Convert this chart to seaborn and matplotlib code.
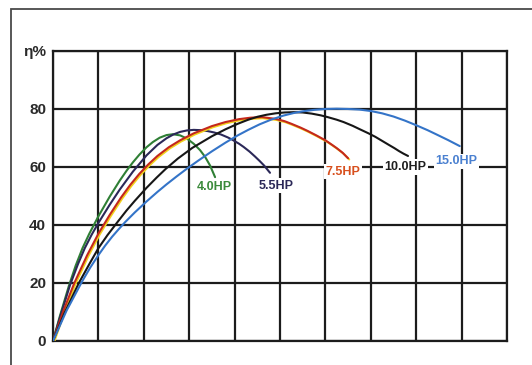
import pandas as pd
import numpy as np
import matplotlib
matplotlib.use("Agg")
import matplotlib.pyplot as plt
import matplotlib.patheffects as pe
from matplotlib.patches import Rectangle
import seaborn as sns

# Efficiency curves (x in grid units, y in %)
hp_4_0_x = [0, 0.15, 0.35, 0.5, 0.65, 0.8, 1.0, 1.25, 1.47, 1.62, 1.76, 1.9, 2.06, 2.2, 2.35, 2.5,
            2.64, 2.8, 2.95, 3.1, 3.24, 3.35, 3.46, 3.57]
hp_4_0_y = [0, 8.5, 19, 26, 32, 37, 43, 49.8, 55.3, 58.7, 61.6, 64.2, 66.8, 68.6, 70.1, 71,
            71.3, 70.9, 69.8, 68, 65.8, 63.5, 60.5, 56.5]

hp_5_5_x = [0, 0.18, 0.38, 0.55, 0.7, 0.85, 1.0, 1.25, 1.47, 1.76, 2.06, 2.3, 2.5, 2.65, 2.8, 2.95,
            3.1, 3.25, 3.4, 3.55, 3.7, 3.85, 3.95, 4.1, 4.2, 4.33, 4.45, 4.55, 4.65, 4.78]
hp_5_5_y = [0, 9.5, 19.5, 26.5, 32, 36.6, 40.7, 47, 52.2, 58.4, 64, 67.6, 69.9, 71.2, 72.1, 72.6,
            72.8, 72.7, 72.4, 71.9, 71.2, 70.2, 69.4, 68, 66.9, 65.3, 63.6, 62.1, 60.5, 58]

hp_7_5_x = [0, 0.22, 0.47, 0.75, 1.0, 1.25, 1.5, 1.7, 1.9, 2.1, 2.3, 2.55, 2.8, 3.1, 3.5, 3.8, 4.1,
            4.35, 4.6, 4.9, 5.1, 5.25, 5.45, 5.6, 5.8, 6.0, 6.15, 6.25, 6.38, 6.5]
hp_7_5_y = [0, 10, 20, 29.5, 37, 43.5, 49.5, 53.8, 57.6, 60.9, 63.8, 66.8, 69.2, 71.6, 74.1, 75.5, 76.5,
            77, 77.2, 76.6, 75.8, 74.9, 73.6, 72.5, 70.9, 69.2, 67.6, 66.5, 64.9, 63]

hp_10_x = [0, 0.25, 0.57, 0.8, 1.0, 1.2, 1.43, 1.62, 1.8, 2.06, 2.28, 2.48, 2.75, 3.07, 3.5, 3.8,
           4.07, 4.3, 4.5, 4.7, 4.9, 5.1, 5.3, 5.5, 5.7, 5.9, 6.05, 6.25, 6.4, 6.6, 6.76, 6.95,
           7.1, 7.25, 7.4, 7.52, 7.62, 7.72, 7.82]
hp_10_y = [0, 9.5, 20, 26.5, 32, 36.5, 41.2, 45, 48.3, 52.8, 56.3, 59.3, 62.9, 66.6, 70.6, 73,
           74.9, 76.3, 77.3, 78, 78.5, 78.8, 78.9, 78.8, 78.4, 77.8, 77.2, 76.3, 75.5, 74.2, 73, 71.6,
           70.4, 69, 67.6, 66.5, 65.5, 64.6, 63.8]

hp_15_x = [0, 0.3, 0.64, 0.82, 1.0, 1.15, 1.3, 1.45, 1.59, 1.8, 2.06, 2.3, 2.5, 2.72, 2.94, 3.2,
           3.5, 3.8, 4.07, 4.3, 4.55, 4.8, 5.07, 5.3, 5.5, 5.75, 6.0, 6.25, 6.5, 6.75, 7.0, 7.25,
           7.5, 7.75, 8.0, 8.25, 8.45, 8.7, 8.96]
hp_15_y = [0, 10.5, 20.5, 25.3, 29.6, 32.9, 35.9, 38.6, 41, 44.3, 48.1, 51.4, 54, 56.7, 59.3, 62.2,
           65.4, 68.4, 70.9, 72.8, 74.7, 76.3, 77.7, 78.6, 79.2, 79.7, 80, 80.1, 80, 79.8, 79.3, 78.5,
           77.4, 76, 74.4, 72.7, 71.2, 69.3, 67.2]

series_names = ["4.0HP", "5.5HP", "7.5HP", "10.0HP", "15.0HP"]
line_colors = ["#2f7f35", "#2b2858", "#c4281c", "#161616", "#3474c8"]
label_colors = ["#3b8a3b", "#2b2858", "#d8501e", "#1e1e1e", "#4a80d0"]
# label anchor points (data coords)
label_x = [3.55, 4.92, 6.38, 7.76, 8.88]
label_y = [53.0, 53.6, 58.4, 60.0, 62.0]

y_ticks = [0, 20, 40, 60, 80, 100]
y_tick_labels = ["0", "20", "40", "60", "80", "η%"]


def build_frame():
    xs = [hp_4_0_x, hp_5_5_x, hp_7_5_x, hp_10_x, hp_15_x]
    ys = [hp_4_0_y, hp_5_5_y, hp_7_5_y, hp_10_y, hp_15_y]
    rows = []
    for name, x, y in zip(series_names, xs, ys):
        for a, b in zip(x, y):
            rows.append({"Flow": a, "Eff": b, "Model": name})
    return pd.DataFrame(rows)


def plot_efficiency(df):
    sns.set_style("white")
    plt.rcParams['font.family'] = ['Liberation Sans', 'DejaVu Sans']

    fig = plt.figure(figsize=(5.32, 3.65), dpi=100)
    ax = fig.add_axes([0.0996, 0.0658, 0.8534, 0.7945])

    sns.lineplot(data=df, x="Flow", y="Eff", hue="Model", sort=False,
                 palette=dict(zip(series_names, line_colors)),
                 linewidth=1.5, legend=False, ax=ax, zorder=3)
    for ln in ax.get_lines():
        ln.set_solid_joinstyle("round")
        ln.set_solid_capstyle("round")

    # the red curve is printed with a yellow fringe in the scan
    red_line = ax.get_lines()[2]
    red_line.set_path_effects([pe.SimpleLineShadow(offset=(0.8, -0.8), shadow_color="#f2d21c", alpha=1.0),
                               pe.Normal()])

    ax.set_xlim(0, 10)
    ax.set_ylim(0, 100)
    ax.set_xticks(np.arange(0, 11, 1))
    ax.set_xticklabels([])
    ax.set_yticks(y_ticks)
    ax.set_yticklabels(y_tick_labels, fontsize=11, fontweight='bold', color="#2a2a2a")
    ax.tick_params(length=0, pad=5)
    ax.set_xlabel("")
    ax.set_ylabel("")
    ax.grid(True, color="#1c1c1c", linewidth=1.6)
    ax.set_axisbelow(True)
    for s in ax.spines.values():
        s.set_color("#1c1c1c")
        s.set_linewidth(1.6)

    for name, c, lx, ly in zip(series_names, label_colors, label_x, label_y):
        ax.text(lx, ly, name, color=c, fontsize=9, fontweight='bold', ha='center', va='center',
                zorder=4, bbox=dict(facecolor='white', edgecolor='none', pad=1.2))

    # outer frame of the scanned page
    fig.add_artist(Rectangle((11 / 532, -0.5), 2.0, 0.5 + 1 - 9 / 365, transform=fig.transFigure,
                             fill=False, edgecolor="#4a4a4a", linewidth=1.3))

    fig.savefig("out.png", dpi=100)
    plt.close(fig)


if __name__ == "__main__":
    plot_efficiency(build_frame())
